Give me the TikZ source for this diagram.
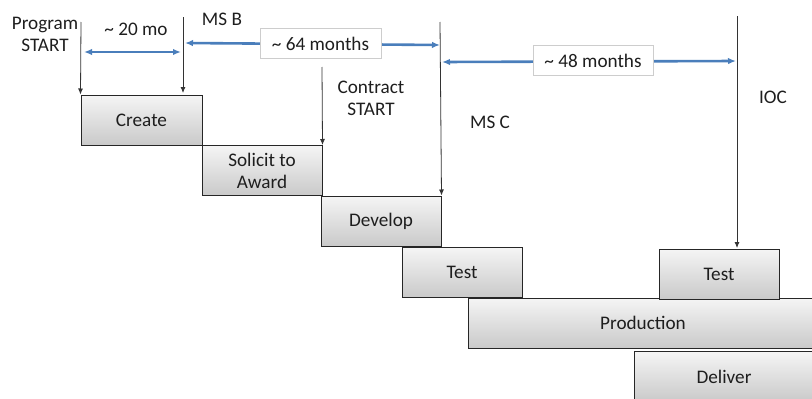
\documentclass[tikz,border=0pt]{standalone}
\usepackage{fontspec}
\setmainfont{Carlito}
\usetikzlibrary{arrows.meta}
\definecolor{txt}{RGB}{30,30,30}
\definecolor{blu}{RGB}{74,126,187}
\definecolor{lblb}{RGB}{205,205,205}
\tikzset{
  phase/.style={draw=black!85, line width=1pt, top color=gray!8, bottom color=gray!42,
    inner sep=0pt, minimum height=50pt, text=txt, align=center,
    font=\fontsize{19.2}{22}\selectfont},
  lbl/.style={text=txt, align=center, inner sep=0pt, font=\fontsize{19.2}{22}\selectfont},
  mbox/.style={draw=lblb, fill=white, line width=0.8pt, text=txt, inner sep=0pt,
    minimum height=30pt, font=\fontsize{19.2}{22}\selectfont},
  mile/.style={draw=black!80, line width=0.8pt, -{Latex[length=6pt,width=5pt]}},
  span/.style={draw=blu, line width=2.6pt, {Latex[length=8pt,width=6.5pt]}-{Latex[length=8pt,width=6.5pt]}},
}
\begin{document}
\begin{tikzpicture}[x=1pt,y=-1pt]
\useasboundingbox (0,0) rectangle (812,399);
% phase boxes
\node[phase, minimum width=121pt] (create) at (141.5,120) {Create};
\node[phase, minimum width=120pt] (solicit) at (262,170.5) {Solicit to\\Award};
\node[phase, minimum width=120pt] (develop) at (381,221) {Develop};
\node[phase, minimum width=120pt] (test1) at (462,272.5) {Test};
\node[phase, minimum width=350pt] (prod) at (643,323) {Production};
\node[phase, minimum width=180pt] (deliver) at (724,376.5) {Deliver};
\node[phase, minimum width=120pt] (test2) at (719,274) {Test};
% labels
\node[lbl] (pstart) at (45,34) {Program\\START};
\node[lbl] (msb) at (222,19) {MS B};
\node[lbl] (cstart) at (371,98) {Contract\\START};
\node[lbl] (msc) at (490,122) {MS C};
\node[lbl] (ioc) at (773,97) {IOC};
% milestone lines
\coordinate (pTop) at (81,22);
\coordinate (bTop) at (183,17);
\coordinate (bBot) at (183,93);
\coordinate (cTop) at (322,67);
\coordinate (mTop) at (440,22);
\coordinate (iTop) at (737,16);
\coordinate (iBot) at (737,248);
\draw[mile] (pTop) -- (create.north west);
\draw[mile] (bTop) -- (bBot);
\draw[mile] (cTop) -- (solicit.north east);
\draw[mile] (mTop) -- (develop.north east);
\draw[mile] (iTop) -- (iBot);
% spans
\coordinate (a1) at (84,52);
\coordinate (a2) at (181,52);
\coordinate (b1) at (185,43);
\coordinate (b2) at (440,45);
\coordinate (c1) at (442,62);
\coordinate (c2) at (736,61);
\draw[span] (a1) -- (a2);
\draw[span] (b1) -- (b2);
\draw[span] (c1) -- (c2);
\node[lbl] (m20) at (136,29) {\char`~\ 20 mo};
\node[mbox, minimum width=121pt] (m64) at (320.5,43.5) {\char`~\ 64 months};
\node[mbox, minimum width=120pt] (m48) at (593,60.5) {\char`~\ 48 months};
\end{tikzpicture}
\end{document}
